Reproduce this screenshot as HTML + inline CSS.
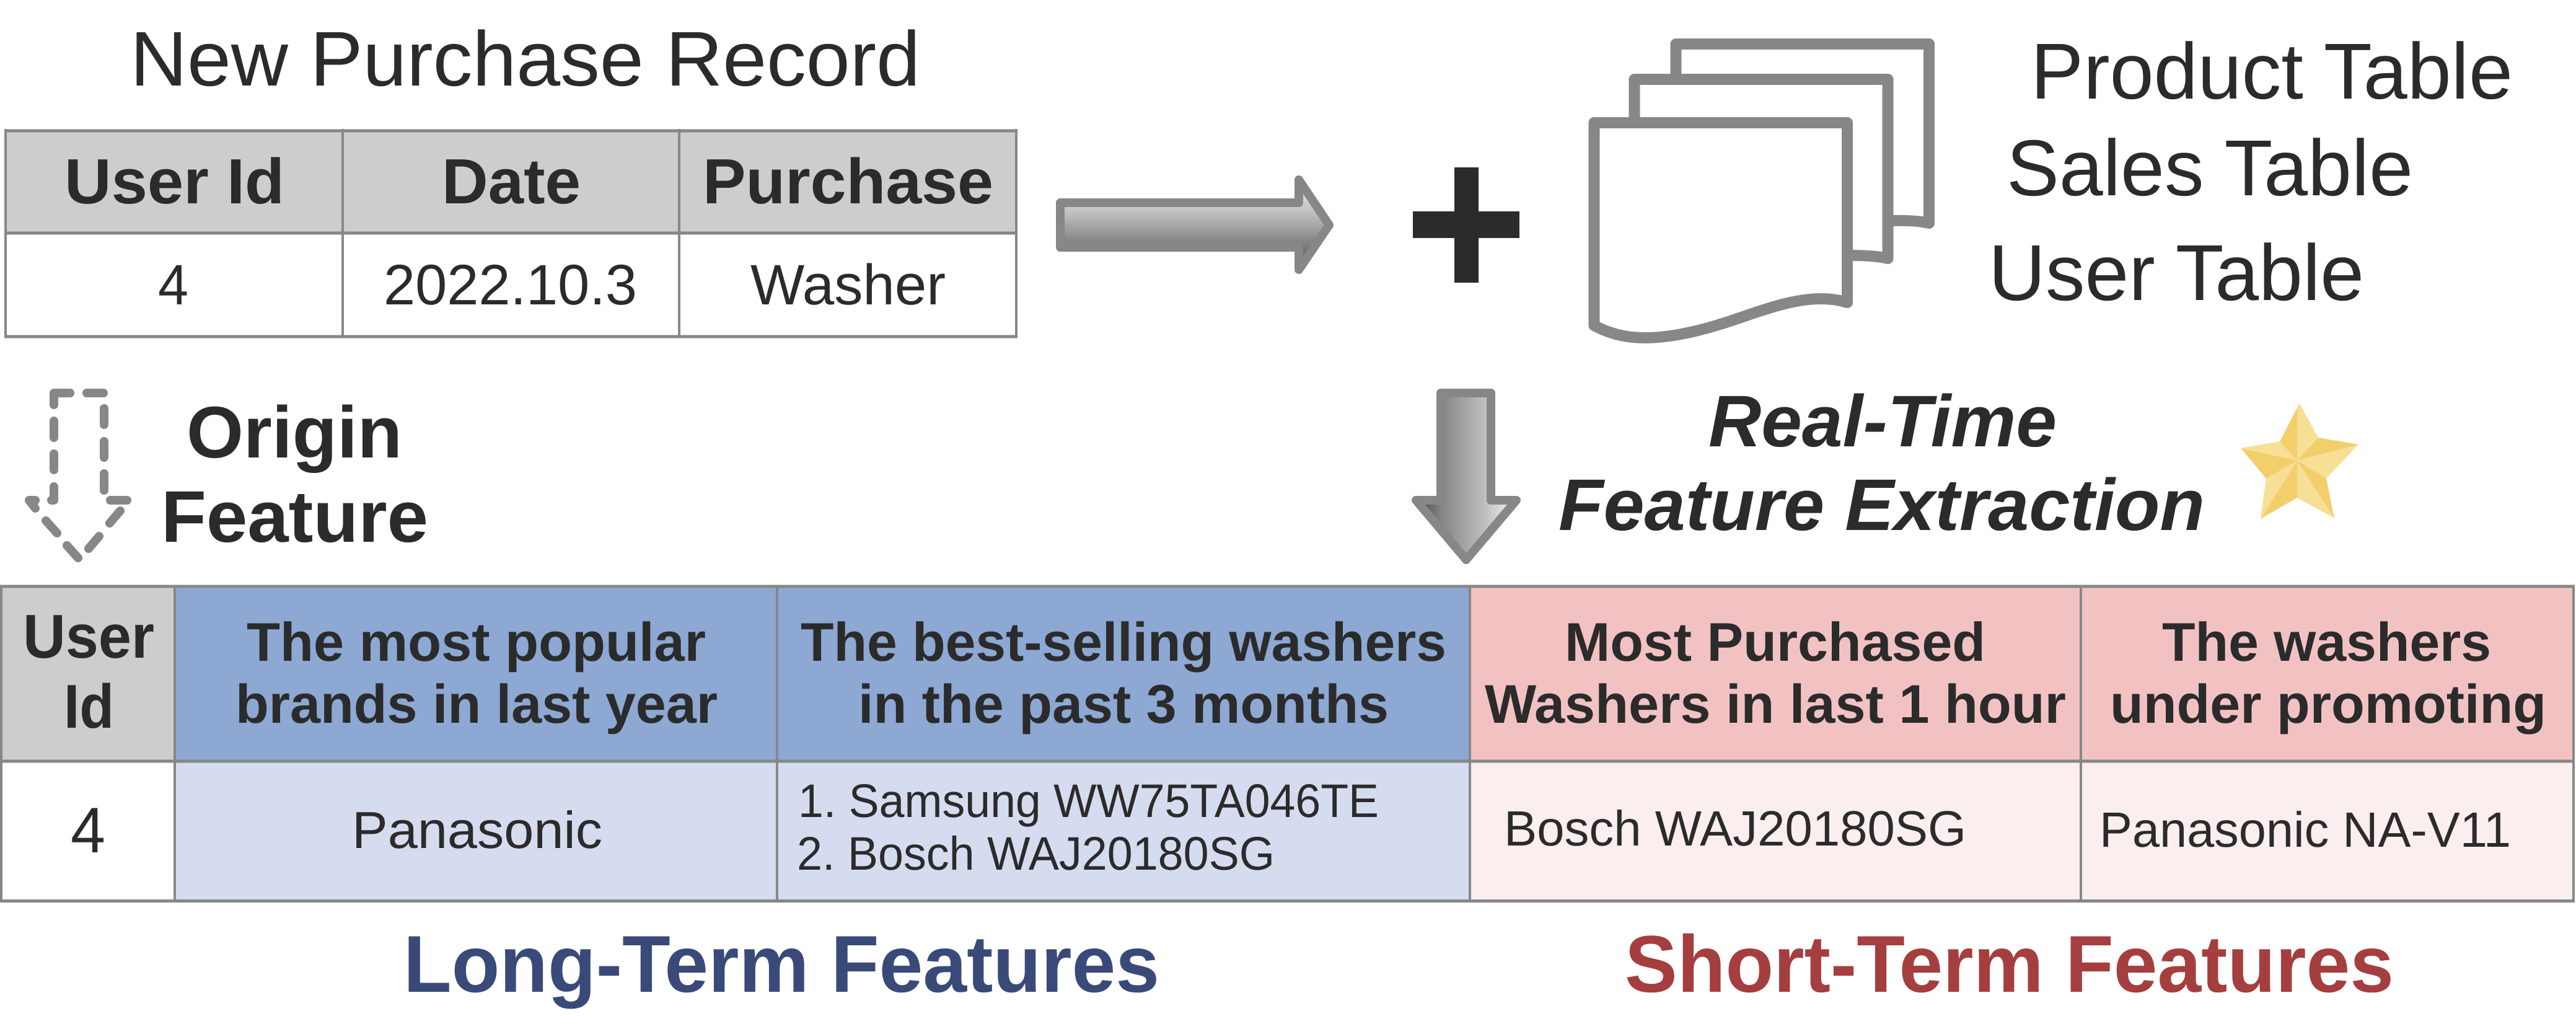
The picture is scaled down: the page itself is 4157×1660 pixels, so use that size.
<!DOCTYPE html>
<html><head><meta charset="utf-8"><style>
html,body{margin:0;padding:0;background:#fff;width:4157px;height:1660px;overflow:hidden}
svg{display:block}
text{font-family:"Liberation Sans",sans-serif;fill:#2b2b2b;text-rendering:geometricPrecision}
.b{font-weight:bold}
</style></head><body>
<svg xmlns="http://www.w3.org/2000/svg" width="4157" height="1660" viewBox="0 0 4157 1660">
<defs>
<linearGradient id="gr" gradientUnits="userSpaceOnUse" x1="0" y1="296" x2="0" y2="430"><stop offset="0" stop-color="#ececec"/><stop offset=".35" stop-color="#c0c0c0"/><stop offset=".72" stop-color="#828282"/><stop offset="1" stop-color="#505050"/></linearGradient>
<linearGradient id="gd" gradientUnits="userSpaceOnUse" x1="2295" y1="0" x2="2437" y2="0"><stop offset="0" stop-color="#505050"/><stop offset=".2" stop-color="#828282"/><stop offset=".75" stop-color="#c4c4c4"/><stop offset="1" stop-color="#ececec"/></linearGradient>
</defs>
<rect width="4157" height="1660" fill="#fff"/>

<!-- top table -->
<rect x="9" y="210" width="1631" height="166" fill="#cdcdcd"/>
<g stroke="#868886" fill="none">
<path d="M7 211H1642M7 376H1642M7 543H1642" stroke-width="5"/>
<path d="M9 208V545M553 208V545M1096 208V545M1640 208V545" stroke-width="4"/>
</g>
<text x="210" y="138" font-size="125" textLength="1275" lengthAdjust="spacingAndGlyphs">New Purchase Record</text>
<text class="b" x="104" y="328" font-size="103" textLength="355" lengthAdjust="spacingAndGlyphs">User Id</text>
<text class="b" x="713" y="328" font-size="103" textLength="224" lengthAdjust="spacingAndGlyphs">Date</text>
<text class="b" x="1134" y="328" font-size="103" textLength="469" lengthAdjust="spacingAndGlyphs">Purchase</text>
<text x="255" y="491" font-size="92" textLength="49" lengthAdjust="spacingAndGlyphs">4</text>
<text x="619" y="491" font-size="92" textLength="409" lengthAdjust="spacingAndGlyphs">2022.10.3</text>
<text x="1211" y="491" font-size="92" textLength="315" lengthAdjust="spacingAndGlyphs">Washer</text>

<!-- right arrow -->
<path d="M1711 327H2096V290L2145 363L2096 435V399H1711Z" fill="url(#gr)" stroke="#868886" stroke-width="14" stroke-linejoin="round"/>

<!-- plus -->
<path d="M2347 270H2386V341H2452V384H2386V456H2347V384H2280V341H2347Z" fill="#2b2b2b"/>

<!-- documents -->
<g stroke="#868886" stroke-width="18" stroke-linejoin="round" stroke-linecap="round">
<path d="M2704.5 135V71H3113V360C3095 356 3075 355.5 3050 356" fill="#fff"/>
<path d="M2637.5 200V128H3046.5V417C3030 413 3010 412 2985 412" fill="#fff"/>
<path d="M2572.5 198H2981V488C2965 483 2950 482 2938 482C2890 482 2840 502 2789 519C2740 535 2695 545 2655 545C2620 545 2595 537 2572.5 525Z" fill="#fff"/>
</g>
<text x="3277" y="159" font-size="128" textLength="778" lengthAdjust="spacingAndGlyphs">Product Table</text>
<text x="3238" y="315" font-size="128" textLength="656" lengthAdjust="spacingAndGlyphs">Sales Table</text>
<text x="3209" y="484" font-size="128" textLength="606" lengthAdjust="spacingAndGlyphs">User Table</text>

<!-- dashed arrow -->
<g fill="none" stroke="#868886" stroke-width="14" stroke-linecap="round" stroke-linejoin="round">
<path d="M113 634H87V653M87 679V706M87 732V758M87 785V807H83M140 634H167M168 659V685M168 712V738M168 764V791M178 807H205M194 824L177 844M160 865L143 885M126 900L108 880M92 860L74 840M57 820L47 807H57"/>
</g>
<text class="b" x="301" y="738" font-size="118" textLength="348" lengthAdjust="spacingAndGlyphs">Origin</text>
<text class="b" x="260" y="874" font-size="118" textLength="431" lengthAdjust="spacingAndGlyphs">Feature</text>

<!-- down arrow -->
<path d="M2325 634H2406V807H2447L2366 903L2285 807H2325Z" fill="url(#gd)" stroke="#868886" stroke-width="14" stroke-linejoin="round"/>

<text class="b" font-style="italic" x="2757" y="720" font-size="118" textLength="562" lengthAdjust="spacingAndGlyphs">Real-Time</text>
<text class="b" font-style="italic" x="2515" y="855" font-size="118" textLength="1043" lengthAdjust="spacingAndGlyphs">Feature Extraction</text>

<!-- star -->
<g fill="#f7df96">
<polygon points="3711,651 3741,706 3707,743 3707,658"/>
<polygon points="3806,717 3754,772 3707,743"/>
<polygon points="3767,836 3707,803 3707,743"/>
<polygon points="3648,837 3657,772 3707,743"/>
<polygon points="3616,723 3679,712 3707,743"/>
</g>
<g fill="#f2cf6b">
<polygon points="3707,658 3707,743 3679,712"/>
<polygon points="3741,706 3806,717 3707,743"/>
<polygon points="3754,772 3767,836 3707,743"/>
<polygon points="3707,803 3648,837 3707,743"/>
<polygon points="3657,772 3616,723 3707,743"/>
</g>

<!-- bottom table -->
<rect x="2" y="946" width="280" height="282" fill="#cdcdcd"/>
<rect x="282" y="946" width="2090" height="282" fill="#8ca8d3"/>
<rect x="2372" y="946" width="1781" height="282" fill="#f2c2c3"/>
<rect x="2" y="1228" width="280" height="226" fill="#fff"/>
<rect x="282" y="1228" width="2090" height="226" fill="#d6dcef"/>
<rect x="2372" y="1228" width="1781" height="226" fill="#faeeee"/>
<g stroke="#868886" fill="none">
<path d="M0 946H4155M0 1228H4155" stroke-width="5"/>
<path d="M0 1453.5H4155" stroke-width="5"/>
<path d="M2 944V1456M282 944V1456M1254 944V1456M2372 944V1456M3358 944V1456M4153 944V1456" stroke-width="4"/>
</g>
<text class="b" x="37" y="1061" font-size="100" textLength="212" lengthAdjust="spacingAndGlyphs">User</text>
<text class="b" x="103" y="1174" font-size="100" textLength="81" lengthAdjust="spacingAndGlyphs">Id</text>

<g font-size="88">
<text font-weight="bold" x="398" y="1066" textLength="741" lengthAdjust="spacingAndGlyphs">The most popular</text>
<text font-weight="bold" x="380" y="1166" textLength="778" lengthAdjust="spacingAndGlyphs">brands in last year</text>
<text font-weight="bold" x="1292" y="1066" textLength="1042" lengthAdjust="spacingAndGlyphs">The best-selling washers</text>
<text font-weight="bold" x="1385" y="1166" textLength="856" lengthAdjust="spacingAndGlyphs">in the past 3 months</text>
<text font-weight="bold" x="2525" y="1066" textLength="679" lengthAdjust="spacingAndGlyphs">Most Purchased</text>
<text font-weight="bold" x="2396" y="1166" textLength="938" lengthAdjust="spacingAndGlyphs">Washers in last 1 hour</text>
<text font-weight="bold" x="3489" y="1066" textLength="531" lengthAdjust="spacingAndGlyphs">The washers</text>
<text font-weight="bold" x="3405" y="1166" textLength="704" lengthAdjust="spacingAndGlyphs">under promoting</text>
</g>

<text x="114" y="1375" font-size="104" textLength="56" lengthAdjust="spacingAndGlyphs">4</text>
<text x="568" y="1368" font-size="84" textLength="404" lengthAdjust="spacingAndGlyphs">Panasonic</text>
<text x="1288" y="1318" font-size="76" textLength="937" lengthAdjust="spacingAndGlyphs">1. Samsung WW75TA046TE</text>
<text x="1286" y="1403" font-size="76" textLength="771" lengthAdjust="spacingAndGlyphs">2. Bosch WAJ20180SG</text>
<text x="2427" y="1364" font-size="80" textLength="746" lengthAdjust="spacingAndGlyphs">Bosch WAJ20180SG</text>
<text x="3388" y="1366" font-size="80" textLength="664" lengthAdjust="spacingAndGlyphs">Panasonic NA-V11</text>

<text class="b" x="651" y="1600" font-size="130" textLength="1220" lengthAdjust="spacingAndGlyphs" style="fill:#3a4a78">Long-Term Features</text>
<text class="b" x="2622" y="1600" font-size="130" textLength="1241" lengthAdjust="spacingAndGlyphs" style="fill:#a53e3e">Short-Term Features</text>
</svg>
</body></html>
